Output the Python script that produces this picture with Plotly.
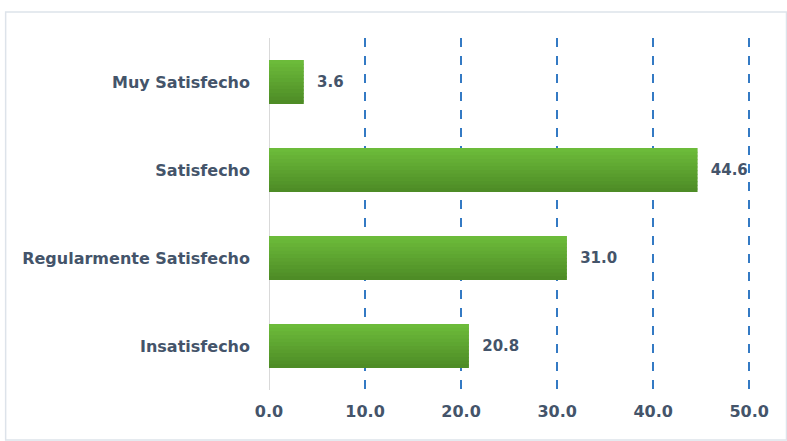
import plotly.graph_objects as go

categories = ["Muy Satisfecho", "Satisfecho", "Regularmente Satisfecho", "Insatisfecho"]
values = [3.6, 44.6, 31.0, 20.8]
tick_vals = [0, 10, 20, 30, 40, 50]
tick_text = ["0.0", "10.0", "20.0", "30.0", "40.0", "50.0"]

FONT = "DejaVu Sans"
TXT = "#44546A"
BOLD = dict(family=FONT, size=15, color=TXT, weight="bold")

# vertical gradient (top light -> bottom dark) built from thin overlaid slices
top_rgb = (108, 187, 58)
bot_rgb = (78, 140, 38)
N = 12
BAR_W = 0.5

fig = go.Figure()
fig.add_trace(go.Bar(
    y=categories, x=values, orientation="h", width=BAR_W,
    marker=dict(color="rgb(93,163,48)", line=dict(width=0)),
    hoverinfo="skip",
))
for i in range(N):
    t = i / (N - 1)
    c = tuple(round(top_rgb[k] + (bot_rgb[k] - top_rgb[k]) * t) for k in range(3))
    w = BAR_W / N + (0.015 if i < N - 1 else 0)
    fig.add_trace(go.Bar(
        y=categories, x=values, orientation="h",
        width=w, offset=-BAR_W / 2 + i * BAR_W / N,
        marker=dict(color="rgb(%d,%d,%d)" % c, line=dict(width=0)),
        hoverinfo="skip",
    ))
fig.add_trace(go.Bar(
    y=categories, x=values, orientation="h", width=BAR_W,
    marker=dict(color="rgba(0,0,0,0)", line=dict(width=0)),
    texttemplate="  %{x:.1f}", textposition="outside", cliponaxis=False,
    textfont=BOLD,
))

fig.update_layout(
    template="none", barmode="overlay",
    width=787, height=441,
    margin=dict(l=269, r=33, t=38, b=51, pad=0),
    paper_bgcolor="white", plot_bgcolor="white",
    showlegend=False,
    font=BOLD,
    shapes=[dict(type="rect", xref="paper", yref="paper",
                 x0=-0.543, x1=1.067, y0=-0.142, y1=1.074,
                 line=dict(color="#DDE3EA", width=1.5), layer="below")],
)
fig.update_xaxes(
    range=[0, 50.5], tickvals=tick_vals, ticktext=tick_text,
    showgrid=True, gridcolor="rgb(52,122,196)", griddash="dash", gridwidth=1.5,
    zeroline=True, zerolinecolor="#D9D9D9", zerolinewidth=1,
    showline=False, ticks="", ticklabelstandoff=10,
    tickfont=dict(family=FONT, size=16, color=TXT, weight="bold"),
)
fig.update_yaxes(
    autorange="reversed", showgrid=False, zeroline=False, showline=False,
    ticks="", ticklabelstandoff=18,
    tickfont=dict(family=FONT, size=16, color=TXT, weight="bold"),
)
fig.write_html("out.html")
